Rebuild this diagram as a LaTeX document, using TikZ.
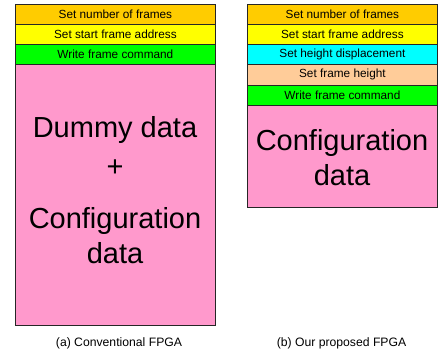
\documentclass[tikz,border=0pt]{standalone}
\usepackage{fontspec}
\setmainfont{Liberation Sans}
\definecolor{cmdorange}{HTML}{FFCC00}
\definecolor{cmdyellow}{HTML}{FFFF00}
\definecolor{cmdgreen}{HTML}{00FF00}
\definecolor{cmdcyan}{HTML}{00FFFF}
\definecolor{cmdpeach}{HTML}{FFCC99}
\definecolor{datapink}{HTML}{FF99CC}
\tikzset{
  field/.style={draw=black!85, line width=0.8pt, anchor=north west, inner sep=0pt,
    font=\fontsize{11.8}{13}\selectfont},
  bigtext/.style={anchor=base, inner sep=0pt, font=\fontsize{29}{33}\selectfont},
  caption/.style={anchor=base, inner sep=0pt, font=\fontsize{12.2}{14}\selectfont},
}
\begin{document}
\begin{tikzpicture}[x=1pt, y=-1pt]
\useasboundingbox (0,0) rectangle (438,351);

% (a) conventional bitstream layout
\node[field, fill=datapink, minimum width=200pt, minimum height=261pt] (adata) at (15,64) {};
\node[field, fill=cmdorange, minimum width=200pt, minimum height=20pt] (anum) at (15,4) {Set number of frames};
\node[field, fill=cmdyellow, minimum width=200pt, minimum height=20pt] (aaddr) at (15,24) {Set start frame address};
\node[field, fill=cmdgreen, minimum width=200pt, minimum height=20pt] (awrite) at (15,44) {Write frame command};
\node[bigtext] (adummy) at (115,137) {Dummy data};
\node[bigtext] (aplus) at (115,176) {+};
\node[bigtext] (aconf) at (115,228) {Configuration};
\node[bigtext] (adata2) at (115,263) {data};
\node[caption] (acap) at (119,346) {(a) Conventional FPGA};

% (b) proposed bitstream layout
\node[field, fill=datapink, minimum width=190pt, minimum height=102pt] (bdata) at (247,105) {};
\node[field, fill=cmdorange, minimum width=190pt, minimum height=20pt] (bnum) at (247,4) {Set number of frames};
\node[field, fill=cmdyellow, minimum width=190pt, minimum height=20pt] (baddr) at (247,24) {Set start frame address};
\node[field, fill=cmdcyan, minimum width=190pt, minimum height=20pt] (bdisp) at (247,44) {Set height displacement};
\node[field, fill=cmdpeach, minimum width=190pt, minimum height=21pt] (bheight) at (247,64) {Set frame height};
\node[field, fill=cmdgreen, minimum width=190pt, minimum height=20pt] (bwrite) at (247,85) {Write frame command};
\node[bigtext] (bconf) at (342,150) {Configuration};
\node[bigtext] (bdata2) at (342,185) {data};
\node[caption] (bcap) at (341.5,346) {(b) Our proposed FPGA};
\end{tikzpicture}
\end{document}
